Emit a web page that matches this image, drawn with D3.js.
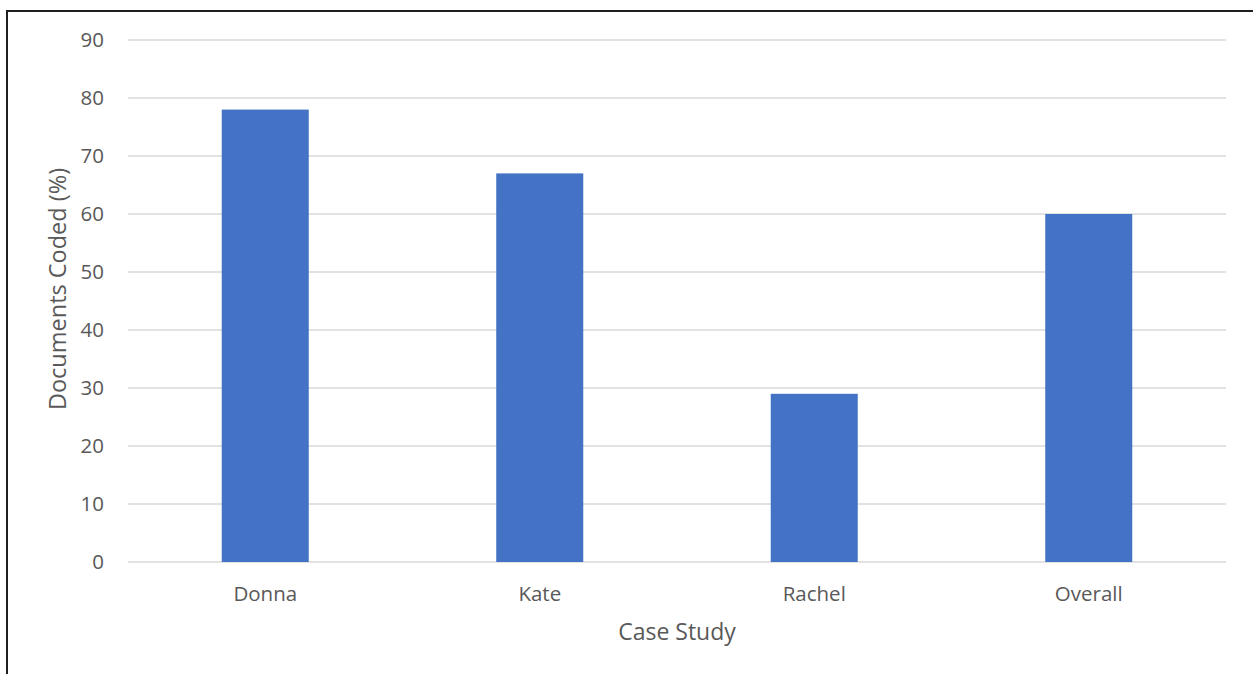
<!DOCTYPE html>
<html>
<head>
<meta charset="utf-8">
<script src="https://cdn.jsdelivr.net/npm/d3@7/dist/d3.min.js"></script>
<style>
  html, body { margin: 0; padding: 0; background: #fff; }
  svg { display: block; }
  text { font-family: "Open Sans", Lato, sans-serif; fill: #595959; }
</style>
</head>
<body>
<svg id="chart" width="1253" height="674"></svg>
<script>
// Share of documents coded per case study
const categories = ["Donna", "Kate", "Rachel", "Overall"];
const coded = [78, 67, 29, 60];
const yTicks = [0, 10, 20, 30, 40, 50, 60, 70, 80, 90];
const xTitle = "Case Study";
const yTitle = "Documents Coded (%)";

const svg = d3.select("#chart");
const W = 1253, H = 674;
const plot = { left: 128, right: 1226, top: 40, bottom: 562 };

// Frame around the chart area (only left and top edges fall inside the canvas)
svg.append("path")
  .attr("d", `M7,${H} L7,11 L${W},11`)
  .attr("fill", "none")
  .attr("stroke", "#1f1f1f")
  .attr("stroke-width", 2);

const x = d3.scaleBand()
  .domain(categories)
  .range([plot.left, plot.right])
  .paddingInner(0.683)
  .paddingOuter(0.3415);

const y = d3.scaleLinear()
  .domain([0, 90])
  .range([plot.bottom, plot.top]);

// Horizontal gridlines
svg.append("g")
  .selectAll("line")
  .data(yTicks)
  .join("line")
  .attr("x1", plot.left)
  .attr("x2", plot.right)
  .attr("y1", d => y(d))
  .attr("y2", d => y(d))
  .attr("stroke", "#d9d9d9")
  .attr("stroke-width", 1.5);

// Bars
svg.append("g")
  .selectAll("rect")
  .data(categories.map((c, i) => ({ c, v: coded[i] })))
  .join("rect")
  .attr("x", d => x(d.c))
  .attr("width", x.bandwidth())
  .attr("y", d => y(d.v))
  .attr("height", d => y(0) - y(d.v))
  .attr("fill", "#4472c4");

// Y axis tick labels
const yAxis = d3.axisLeft(y).tickValues(yTicks).tickSize(0).tickPadding(24);
const gy = svg.append("g").attr("transform", `translate(${plot.left},0)`).call(yAxis);
gy.select(".domain").remove();
gy.selectAll("text")
  .attr("font-size", 20.5)
  .attr("fill", "#595959")
  .style("font-family", null);

// X axis category labels
const xAxis = d3.axisBottom(x).tickSize(0).tickPadding(24);
const gx = svg.append("g").attr("transform", `translate(0,${plot.bottom})`).call(xAxis);
gx.select(".domain").remove();
gx.selectAll("text")
  .attr("font-size", 20.5)
  .attr("fill", "#595959")
  .style("font-family", null);

// Axis titles
svg.append("text")
  .attr("x", (plot.left + plot.right) / 2)
  .attr("y", 640)
  .attr("text-anchor", "middle")
  .attr("font-size", 23)
  .text(xTitle);

svg.append("text")
  .attr("transform", `translate(66,${(plot.top + plot.bottom) / 2 - 12}) rotate(-90)`)
  .attr("text-anchor", "middle")
  .attr("font-size", 23.5)
  .text(yTitle);
</script>
</body>
</html>
